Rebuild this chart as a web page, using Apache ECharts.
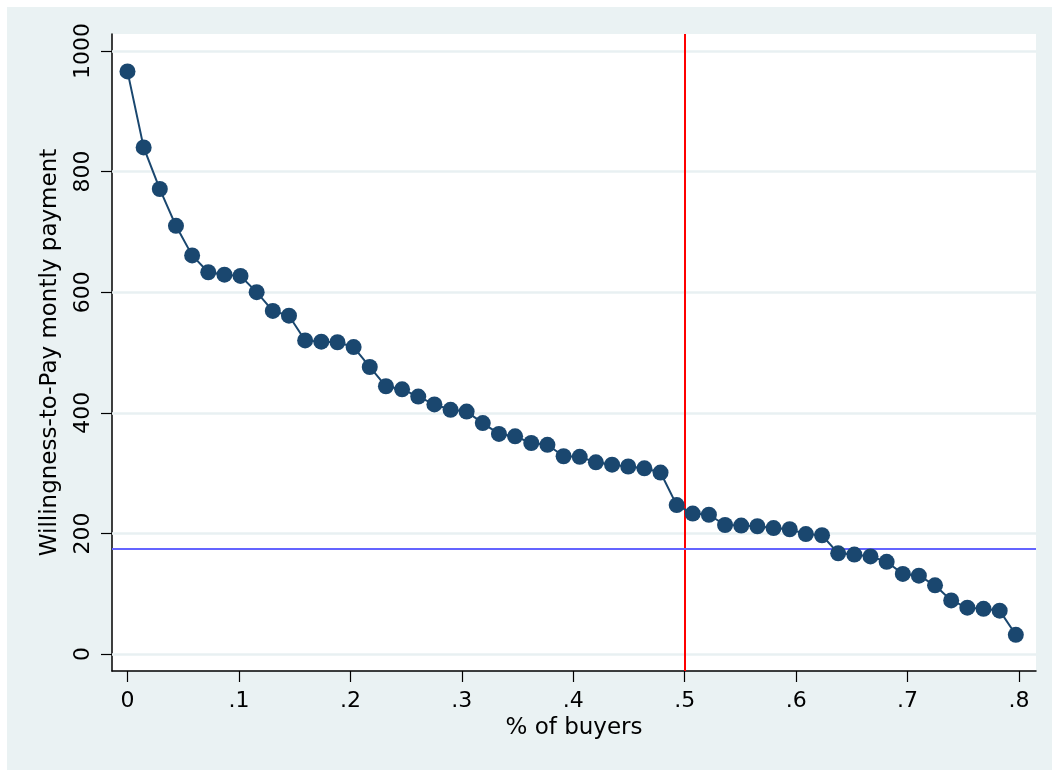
<!DOCTYPE html>
<html>
<head>
<meta charset="utf-8">
<script src="https://cdn.jsdelivr.net/npm/echarts@6/dist/echarts.min.js"></script>
<style>
  html, body { margin: 0; padding: 0; background: #ffffff; }
  #chart { position: absolute; left: 7px; top: 7px; width: 1045px; height: 763px; }
</style>
</head>
<body>
<div id="chart"></div>
<script>
// ---- data ----
const shareBuyers = [0, 0.0145, 0.0290, 0.0435, 0.0580, 0.0725, 0.0870, 0.1014, 0.1159, 0.1304,
  0.1449, 0.1594, 0.1739, 0.1884, 0.2029, 0.2174, 0.2319, 0.2464, 0.2609, 0.2754,
  0.2899, 0.3043, 0.3188, 0.3333, 0.3478, 0.3623, 0.3768, 0.3913, 0.4058, 0.4203,
  0.4348, 0.4493, 0.4638, 0.4783, 0.4928, 0.5072, 0.5217, 0.5362, 0.5507, 0.5652,
  0.5797, 0.5942, 0.6087, 0.6232, 0.6377, 0.6522, 0.6667, 0.6812, 0.6957, 0.7101,
  0.7246, 0.7391, 0.7536, 0.7681, 0.7826, 0.7971];
const wtpPayment = [966, 840, 771, 710, 661, 633, 629, 627, 600, 569,
  561, 520, 518, 517, 509, 476, 444, 439, 427, 414,
  405, 402, 383, 365, 361, 350, 347, 328, 327, 318,
  314, 311, 308, 301, 247, 233, 231, 214, 213, 212,
  209, 207, 199, 197, 167, 165, 162, 153, 133, 130,
  114, 89, 77, 75, 72, 32];
const xTicks = [0, 0.1, 0.2, 0.3, 0.4, 0.5, 0.6, 0.7, 0.8];
const xTickLabels = ['0', '.1', '.2', '.3', '.4', '.5', '.6', '.7', '.8'];
const yTicks = [0, 200, 400, 600, 800, 1000];
const yTickLabels = ['0', '200', '400', '600', '800', '1000'];
const refShare = 0.5;      // vertical red line
const refPrice = 175;      // horizontal blue line
const xTitle = '% of buyers';
const yTitle = 'Willingness-to-Pay montly payment';

const FONT = 'DejaVu Sans';
const chart = echarts.init(document.getElementById('chart'), null, { renderer: 'canvas' });

const points = shareBuyers.map((x, i) => [x, wtpPayment[i]]);

function labelFor(values, labels) {
  return function (v) {
    for (let i = 0; i < values.length; i++) {
      if (Math.abs(values[i] - v) < 1e-6) return labels[i];
    }
    return '';
  };
}

chart.setOption({
  backgroundColor: '#EAF2F3',
  animation: false,
  grid: {
    left: 105, top: 27, width: 924, height: 637,
    show: true, backgroundColor: '#ffffff', borderWidth: 0
  },
  xAxis: {
    type: 'value',
    min: -0.0139, max: 0.8152,
    name: xTitle, nameLocation: 'middle', nameGap: 44,
    nameTextStyle: { fontFamily: FONT, fontSize: 23, color: '#000' },
    axisLine: { show: true, onZero: false, lineStyle: { color: '#000', width: 1.5 } },
    axisTick: { show: true, length: 11, customValues: xTicks, lineStyle: { color: '#000', width: 1.2 } },
    axisLabel: { customValues: xTicks, formatter: labelFor(xTicks, xTickLabels), margin: 19,
      fontFamily: FONT, fontSize: 22, color: '#000' },
    splitLine: { show: false }
  },
  yAxis: {
    type: 'value',
    min: -28, max: 1028,
    name: yTitle, nameLocation: 'middle', nameGap: 50, nameRotate: 90,
    nameTextStyle: { fontFamily: FONT, fontSize: 23, color: '#000' },
    axisLine: { show: true, onZero: false, lineStyle: { color: '#000', width: 1.5 } },
    axisTick: { show: true, length: 11, customValues: yTicks, lineStyle: { color: '#000', width: 1.2 } },
    axisLabel: { customValues: yTicks, formatter: labelFor(yTicks, yTickLabels), rotate: 90, margin: 18,
      fontFamily: FONT, fontSize: 22, color: '#000' },
    splitLine: { show: false }
  },
  series: [
    {
      type: 'line', data: [], z: 1, silent: true,
      markLine: {
        z: 1,
        silent: true, symbol: 'none', animation: false,
        label: { show: false },
        lineStyle: { color: '#E8F0F2', width: 2.5, type: 'solid' },
        data: yTicks.map(v => ({ yAxis: v }))
      }
    },
    {
      type: 'line', data: [], z: 2, silent: true,
      markLine: {
        z: 2,
        silent: true, symbol: 'none', animation: false,
        label: { show: false },
        data: [
          { xAxis: refShare, lineStyle: { color: '#FF0000', width: 2, type: 'solid' } },
          { yAxis: refPrice, lineStyle: { color: '#6464FF', width: 2, type: 'solid' } }
        ]
      }
    },
    {
      type: 'line', data: points, z: 3,
      symbol: 'circle', symbolSize: 16, showSymbol: true,
      lineStyle: { color: '#1A476F', width: 2 },
      itemStyle: { color: '#1A476F', borderWidth: 0 }
    }
  ]
});
</script>
</body>
</html>
